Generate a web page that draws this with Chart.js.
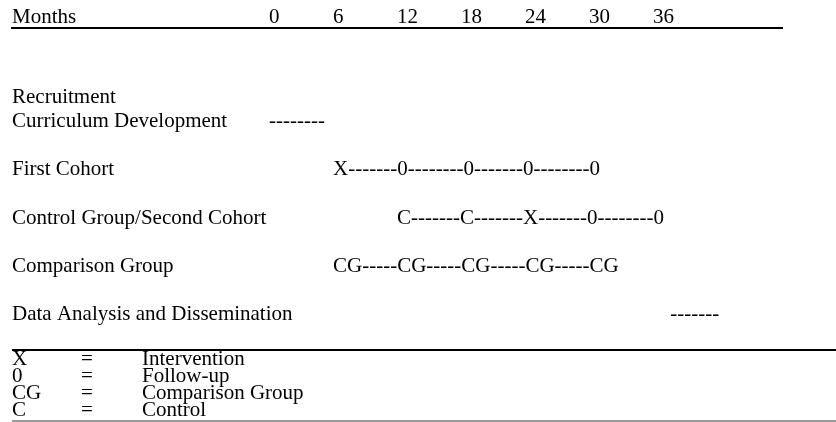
<!DOCTYPE html>
<html lang="en">
<head>
<meta charset="UTF-8">
<title>Study timeline</title>
<script src="https://cdn.jsdelivr.net/npm/chart.js@4.4.1/dist/chart.umd.min.js"></script>
<style>
  html, body { margin: 0; padding: 0; background: #fff; }
  #wrap { width: 836px; height: 422px; }
</style>
</head>
<body>
<div id="wrap"><canvas id="timeline"></canvas></div>
<script>
var axisTitle = 'Months';
var months = [0, 6, 12, 18, 24, 30, 36];

var rowLabels = ['Recruitment', 'Curriculum Development', 'First Cohort',
                 'Control Group/Second Cohort', 'Comparison Group', 'Data Analysis and Dissemination'];
var rowLines = [0, 1, 3, 5, 7, 9];   // text line each row sits on

var firstMonths = [6, 12, 18, 24, 30];
var firstMarks = ['X', '0', '0', '0', '0'];
var controlMonths = [12, 18, 24, 30, 36];
var controlMarks = ['C', 'C', 'X', '0', '0'];
var compMonths = [6, 12, 18, 24, 30];
var compMarks = ['CG', 'CG', 'CG', 'CG', 'CG'];

var curriculumSpan = [0, 5.25];   // months
var analysisSpan = [37.6, 42.1];

var keySymbols = ['X', '0', 'CG', 'C'];
var keyMeanings = ['Intervention', 'Follow-up', 'Comparison Group', 'Control'];

var FONT = '21px "Liberation Serif"';

function markSet(ms, line, marks) {
  return {
    data: ms.map(function (m) { return { x: m, y: line }; }),
    marks: marks,
    pointRadius: 0,
    showLine: false
  };
}
function spanSet(span, line) {
  return {
    data: [{ x: span[0], y: line }, { x: span[1], y: line }],
    span: true,
    pointRadius: 0,
    showLine: false
  };
}

// draws labels, markers, dashes and the key
var textPlugin = {
  id: 'textPlugin',
  afterDraw: function (chart) {
    var ctx = chart.ctx;
    var area = chart.chartArea;
    var ys = chart.scales.y;
    ctx.save();
    ctx.font = FONT;
    ctx.fillStyle = '#000';
    ctx.textBaseline = 'middle';
    ctx.textAlign = 'left';
    var hw = ctx.measureText('-').width;

    ctx.fillText(axisTitle, 12, area.top - 10.5);

    for (var i = 0; i < rowLabels.length; i++) {
      ctx.fillText(rowLabels[i], 12, ys.getPixelForValue(rowLines[i]));
    }

    chart.data.datasets.forEach(function (ds, di) {
      var pts = chart.getDatasetMeta(di).data;
      if (ds.span) {
        var n = Math.round((pts[1].x - pts[0].x) / hw);
        ctx.fillText('-'.repeat(n), pts[0].x, pts[0].y);
        return;
      }
      // marks sit on the tab stops, hyphens fill the gap like typed text
      var cursor = pts[0].x;
      for (var j = 0; j < pts.length; j++) {
        if (j > 0) {
          var k = Math.max(1, Math.round((pts[j].x - cursor) / hw));
          ctx.fillText('-'.repeat(k), cursor, pts[j].y);
          cursor += k * hw;
        }
        ctx.fillText(ds.marks[j], cursor, pts[j].y);
        cursor += ctx.measureText(ds.marks[j]).width;
      }
    });

    // key table
    var top = 350;
    ctx.strokeStyle = '#000';
    ctx.lineWidth = 2;
    ctx.beginPath();
    ctx.moveTo(12, top);
    ctx.lineTo(836, top);
    ctx.stroke();
    for (var q = 0; q < keySymbols.length; q++) {
      var yy = top + 9 + q * 17;
      ctx.fillText(keySymbols[q], 12, yy);
      ctx.fillText('=', 81, yy);
      ctx.fillText(keyMeanings[q], 142, yy);
    }
    ctx.strokeStyle = '#777';
    ctx.lineWidth = 1.5;
    ctx.beginPath();
    ctx.moveTo(12, 421);
    ctx.lineTo(836, 421);
    ctx.stroke();
    ctx.restore();
  }
};

new Chart(document.getElementById('timeline'), {
  type: 'scatter',
  data: {
    datasets: [
      spanSet(curriculumSpan, rowLines[1]),
      markSet(firstMonths, rowLines[2], firstMarks),
      markSet(controlMonths, rowLines[3], controlMarks),
      markSet(compMonths, rowLines[4], compMarks),
      spanSet(analysisSpan, rowLines[5])
    ]
  },
  options: {
    responsive: true,
    maintainAspectRatio: false,
    animation: false,
    layout: { padding: { top: 7, left: 12, right: 54, bottom: 0 } },
    plugins: { legend: { display: false }, tooltip: { enabled: false } },
    scales: {
      x: {
        type: 'linear',
        position: 'top',
        min: -24.09,
        max: 48.08,
        afterBuildTicks: function (axis) {
          axis.ticks = months.map(function (v) { return { value: v }; });
        },
        grid: { display: false, drawTicks: false },
        border: { display: true, color: '#000', width: 2 },
        ticks: {
          padding: 0,
          align: 'start',
          color: '#000',
          maxRotation: 0,
          autoSkip: false,
          font: { family: 'Liberation Serif', size: 21, lineHeight: 1 }
        }
      },
      y: {
        type: 'linear',
        display: false,
        reverse: true,
        min: -2.851,
        max: 13.43
      }
    }
  },
  plugins: [textPlugin]
});
</script>
</body>
</html>
